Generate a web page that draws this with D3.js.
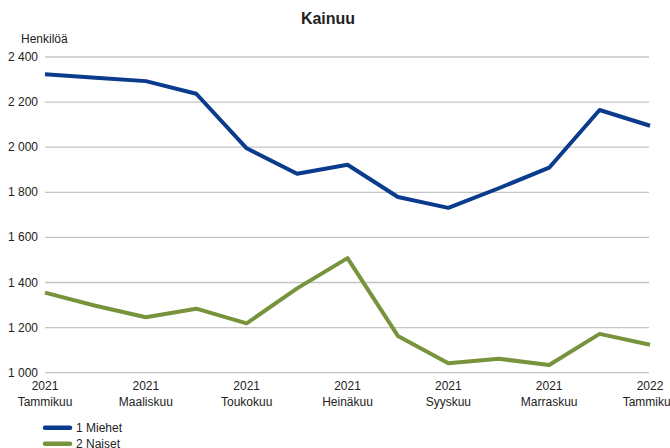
<!DOCTYPE html>
<html>
<head>
<meta charset="utf-8">
<script src="https://cdn.jsdelivr.net/npm/d3@7"></script>
<style>
body { margin: 0; background: #fff; }
text { font-family: "Liberation Sans", Arial, sans-serif; fill: #222; }
</style>
</head>
<body>
<div id="chart"></div>
<script>
var width = 670;
var height = 448;

// kuukaudet tammikuu 2021 - tammikuu 2022
var months = ["2021-01","2021-02","2021-03","2021-04","2021-05","2021-06","2021-07",
	"2021-08","2021-09","2021-10","2021-11","2021-12","2022-01"];
var tickYears = ["2021","","2021","","2021","","2021","","2021","","2021","","2022"];
var tickMonths = ["Tammikuu","","Maaliskuu","","Toukokuu","","Heinäkuu","","Syyskuu","","Marraskuu","","Tammikuu"];

var miehet = [2323, 2308, 2293, 2237, 1995, 1882, 1922, 1779, 1731, 1818, 1909, 2165, 2095];
var naiset = [1355, 1297, 1246, 1284, 1219, 1374, 1508, 1163, 1042, 1062, 1034, 1172, 1124];

var seriesNames = ["1 Miehet", "2 Naiset"];
var colors = ["#0b3b8c", "#77933c"];
var yTicks = [1000, 1200, 1400, 1600, 1800, 2000, 2200, 2400];

var svg = d3.select("#chart").append("svg")
	.attr("width", width)
	.attr("height", height);

var x = d3.scalePoint().domain(months).range([45, 650]);
var y = d3.scaleLinear().domain([1000, 2400]).range([372.7, 57]);

var fmt = function(d){ return d3.format(",")(d).replace(",", " "); };

// gridlines
svg.append("g").selectAll("line")
	.data(yTicks)
	.enter()
	.append("line")
	.attr("x1", 45)
	.attr("x2", 649)
	.attr("y1", function(d){ return y(d); })
	.attr("y2", function(d){ return y(d); })
	.attr("stroke", "#c4c4c4")
	.attr("stroke-width", 1.3);

// y labels
svg.append("g").selectAll("text")
	.data(yTicks)
	.enter()
	.append("text")
	.attr("x", 38)
	.attr("y", function(d){ return y(d) + 4; })
	.attr("text-anchor", "end")
	.attr("font-size", "12px")
	.text(fmt);

svg.append("text")
	.attr("x", 21)
	.attr("y", 43)
	.attr("font-size", "12px")
	.text("Henkilöä");

svg.append("text")
	.attr("x", 328)
	.attr("y", 24)
	.attr("text-anchor", "middle")
	.attr("font-size", "16px")
	.attr("font-weight", "bold")
	.attr("fill", "#111")
	.text("Kainuu");

// x labels
var xl = svg.append("g").selectAll("text")
	.data(months.filter(function(d,i){ return tickMonths[i] != ""; }))
	.enter()
	.append("text")
	.attr("text-anchor", "middle")
	.attr("font-size", "12px")
	.attr("transform", function(d){ return "translate(" + x(d) + ",0)"; });
xl.append("tspan")
	.attr("x", 0)
	.attr("y", 390)
	.text(function(d){ return tickYears[months.indexOf(d)]; });
xl.append("tspan")
	.attr("x", 0)
	.attr("y", 405.5)
	.text(function(d){ return tickMonths[months.indexOf(d)]; });

var line = d3.line()
	.x(function(d,i){ return x(months[i]); })
	.y(function(d){ return y(d); });

[miehet, naiset].forEach(function(s, k){
	svg.append("path")
		.datum(s)
		.attr("d", line)
		.attr("fill", "none")
		.attr("stroke", colors[k])
		.attr("stroke-width", 4)
		.attr("stroke-linejoin", "round");
});

// legend
var leg = svg.append("g").selectAll("g")
	.data(seriesNames)
	.enter()
	.append("g")
	.attr("transform", function(d,i){ return "translate(0," + (427.7 + i*16) + ")"; });
leg.append("line")
	.attr("x1", 45)
	.attr("x2", 70)
	.attr("stroke", function(d,i){ return colors[i]; })
	.attr("stroke-width", 4.5)
	.attr("stroke-linecap", "round");
leg.append("text")
	.attr("x", 76)
	.attr("y", 4)
	.attr("font-size", "12px")
	.text(function(d){ return d; });
</script>
</body>
</html>
